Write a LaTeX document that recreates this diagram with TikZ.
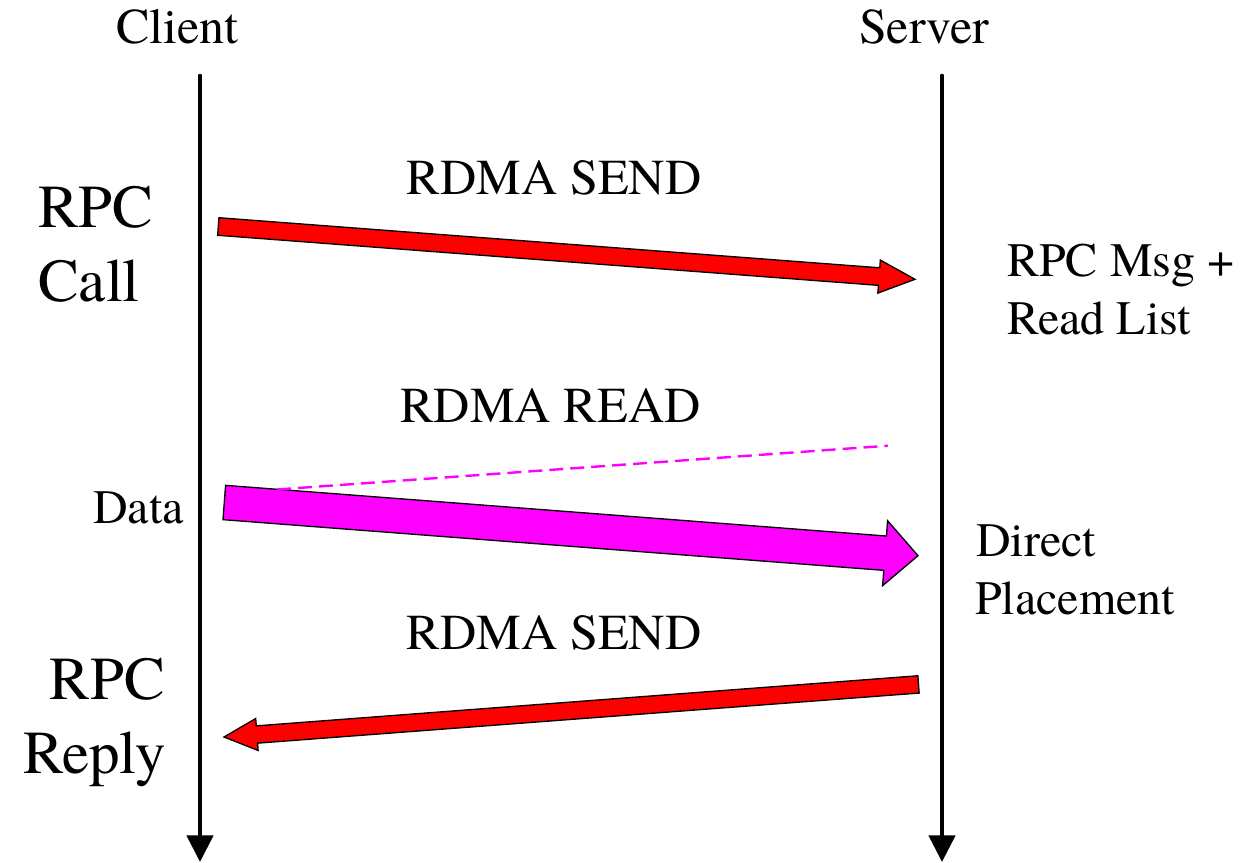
\documentclass[tikz,border=0pt]{standalone}
\usepackage{fontspec}
\setmainfont{texgyretermes}[Extension=.otf, UprightFont=*-regular,
  BoldFont=*-bold, ItalicFont=*-italic, BoldItalicFont=*-bolditalic]
\usetikzlibrary{arrows.meta,calc}

% Fat block arrow from #1 (tail centre) to #2 (tip):
% #3 shaft half width, #4 head half width, #5 head length, #6 fill colour
\newcommand\flowarrow[6]{%
  \coordinate (ba) at ($(#2)!#5!(#1)$);
  \draw[blockedge, fill=#6]
    ($(#1)!#3!90:(#2)$) -- ($(ba)!#3!90:(#2)$) -- ($(ba)!#4!90:(#2)$) --
    (#2) --
    ($(ba)!#4!-90:(#2)$) -- ($(ba)!#3!-90:(#2)$) -- ($(#1)!#3!-90:(#2)$) -- cycle;
}

\definecolor{sendred}{RGB}{255,0,0}
\definecolor{readmag}{RGB}{255,0,255}

\tikzset{
  lifeline/.style={line width=3.5pt, line cap=round,
    -{Triangle[length=20pt,width=19.5pt]}},
  blockedge/.style={draw=black, line width=1pt, line join=miter},
  readline/.style={draw=readmag, line width=1.8pt, dash pattern=on 10.5pt off 5.25pt},
  hdr/.style={inner sep=0pt, font=\fontsize{37.5}{45}\selectfont},
  msg/.style={inner sep=0pt, font=\fontsize{37.7}{45}\selectfont},
  note/.style={inner sep=0pt, font=\fontsize{36}{43}\selectfont},
  rpc/.style={inner sep=0pt, font=\fontsize{45.75}{55}\selectfont},
}

\begin{document}
\begin{tikzpicture}[x=0.75pt,y=-0.75pt]
\useasboundingbox (0,0) rectangle (1245,863);

% party headings
\node[hdr, anchor=base] (client) at (177.5,43.3) {Client};
\node[hdr, anchor=base] (server) at (924,43.3) {Server};

% lifelines
\coordinate (ctop) at (200,76);
\coordinate (cbot) at (200,862);
\coordinate (stop) at (942,76);
\coordinate (sbot) at (942,862);
\draw[lifeline] (ctop) -- (cbot);
\draw[lifeline] (stop) -- (sbot);

% call: RDMA SEND client -> server
\node[rpc, anchor=base west] (rpccall1) at (38,227.7) {RPC};
\node[rpc, anchor=base west] (rpccall2) at (38,301) {Call};
\node[msg, anchor=base] (send1) at (554,194.3) {RDMA SEND};
\coordinate (s1tail) at (218.3,226.5);
\coordinate (s1tip) at (915,279.3);
\flowarrow{s1tail}{s1tip}{6.6pt}{12.4pt}{27pt}{sendred}
\node[note, anchor=base west] (msg1) at (1007,276.7) {RPC Msg +};
\node[note, anchor=base west] (msg2) at (1007,334.3) {Read List};

% RDMA READ: request (dashed) and data transfer
\node[msg, anchor=base] (read) at (550.5,422.7) {RDMA READ};
\node[note, anchor=base east] (data) at (184,523.3) {Data};
\coordinate (rdtail) at (224.3,502.5);
\coordinate (rdtip) at (918,555.7);
\flowarrow{rdtail}{rdtip}{12.9pt}{24.4pt}{24.75pt}{readmag}
\coordinate (rqa) at (277,489.5);
\coordinate (rqb) at (888,445.7);
\draw[readline] (rqa) -- (rqb);
\node[note, anchor=base west] (place1) at (976,556) {Direct};
\node[note, anchor=base west] (place2) at (975,614.3) {Placement};

% reply: RDMA SEND server -> client
\node[msg, anchor=base] (send2) at (554,649.3) {RDMA SEND};
\coordinate (s2tail) at (918.5,684.4);
\coordinate (s2tip) at (224,737);
\flowarrow{s2tail}{s2tip}{6.5pt}{12pt}{24.75pt}{sendred}
\node[rpc, anchor=base east] (rpcreply1) at (165,699.3) {RPC};
\node[rpc, anchor=base east] (rpcreply2) at (166,773.3) {Reply};
\end{tikzpicture}
\end{document}
